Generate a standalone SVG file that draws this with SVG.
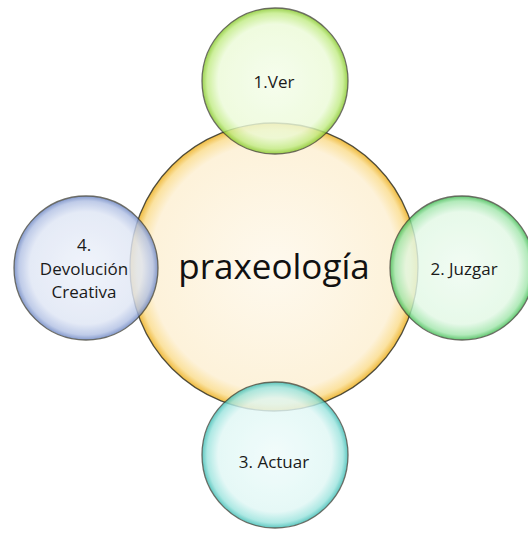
<svg xmlns="http://www.w3.org/2000/svg" width="528" height="536" viewBox="0 0 528 536">
<style>
.bub{stroke:#333328;stroke-width:1.3;stroke-opacity:0.85}
.lbl{font-family:"Open Sans","Liberation Sans",sans-serif;font-size:17px;fill:#1a1a1a;text-anchor:middle}
.big{font-family:"Open Sans","Liberation Sans",sans-serif;font-size:35px;fill:#111;text-anchor:middle}
</style>
<defs>
<radialGradient id="gC" cx="50%" cy="50%" r="50%">
<stop offset="0" stop-color="#fef9ee"/><stop offset="0.86" stop-color="#fdf2da"/><stop offset="0.95" stop-color="#fbe2a0"/><stop offset="1" stop-color="#efba3e"/>
</radialGradient>
<radialGradient id="g1" cx="50%" cy="50%" r="50%">
<stop offset="0" stop-color="#f4fdea"/><stop offset="0.78" stop-color="#ecfbd8"/><stop offset="0.93" stop-color="#c2ec86"/><stop offset="1" stop-color="#86c82a"/>
</radialGradient>
<radialGradient id="g2" cx="50%" cy="50%" r="50%">
<stop offset="0" stop-color="#effcf1"/><stop offset="0.78" stop-color="#e2f8e5"/><stop offset="0.93" stop-color="#a2e6ac"/><stop offset="1" stop-color="#40bc52"/>
</radialGradient>
<radialGradient id="g3" cx="50%" cy="50%" r="50%">
<stop offset="0" stop-color="#effcfb"/><stop offset="0.78" stop-color="#e0f7f5"/><stop offset="0.93" stop-color="#9ce4de"/><stop offset="1" stop-color="#3cbcb4"/>
</radialGradient>
<radialGradient id="g4" cx="50%" cy="50%" r="50%">
<stop offset="0" stop-color="#eef2fa"/><stop offset="0.78" stop-color="#dfe6f5"/><stop offset="0.93" stop-color="#b2c1e4"/><stop offset="1" stop-color="#6a84c2"/>
</radialGradient>
</defs>
<g id="center">
<circle class="bub" cx="274" cy="267" r="144" fill="url(#gC)"/>
<text class="big" x="274" y="279">praxeología</text>
</g>
<g id="connectors"></g>
<g id="n1" opacity="0.82">
<circle class="bub" cx="275" cy="81" r="73" fill="url(#g1)"/>
</g>
<g id="n2" opacity="0.82">
<circle class="bub" cx="462" cy="268" r="72" fill="url(#g2)"/>
</g>
<g id="n3" opacity="0.82">
<circle class="bub" cx="275" cy="455" r="73" fill="url(#g3)"/>
</g>
<g id="n4" opacity="0.82">
<circle class="bub" cx="86" cy="268" r="72" fill="url(#g4)"/>
</g>
<g id="labels">
<text class="lbl" x="274" y="88">1.Ver</text>
<text class="lbl" x="464" y="275">2. Juzgar</text>
<text class="lbl" x="274" y="468">3. Actuar</text>
<text class="lbl" x="84" y="251">4.</text>
<text class="lbl" x="84" y="275">Devolución</text>
<text class="lbl" x="84" y="298">Creativa</text>
</g>
</svg>
